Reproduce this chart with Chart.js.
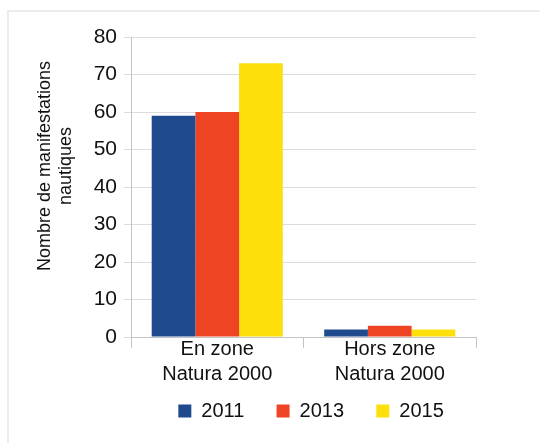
<!DOCTYPE html>
<html lang="fr">
<head>
<meta charset="utf-8">
<title>Manifestations nautiques</title>
<script src="https://cdn.jsdelivr.net/npm/chart.js@4"></script>
<style>
    html, body {
        margin: 0;
        padding: 0;
        background: #ffffff;
    }
    #wrap {
        width: 540px;
        height: 443px;
        position: relative;
    }
</style>
</head>
<body>
<div id="wrap"><canvas id="chart" width="540" height="443"></canvas></div>
<script>
// Catégories et séries
const zones = [['En zone', 'Natura 2000'], ['Hors zone', 'Natura 2000']];
const years = ['2011', '2013', '2015'];
const values2011 = [59, 2];
const values2013 = [60, 3];
const values2015 = [73, 2];
const yTicks = [0, 10, 20, 30, 40, 50, 60, 70, 80];
const yTitle = ['Nombre de manifestations', 'nautiques'];

const colors = {
    blue: '#1f4a8e',
    red: '#ee4423',
    yellow: '#fddf0b',
    grid: '#dcdcdc',
    axis: '#c4c4c4',
    frame: '#ececec',
    text: '#111111'
};

const fontFamily = "'Liberation Sans', Arial, sans-serif";

/**
 * Light frame around the whole figure
 */
const framePlugin = {
    id: 'frame',
    beforeDraw(chart) {
        const ctx = chart.ctx;
        ctx.save();
        ctx.strokeStyle = colors.frame;
        ctx.lineWidth = 2;
        ctx.strokeRect(8, 11, 700, 600);
        ctx.restore();
    }
};

/**
 * Rotated two-line y axis title
 */
const yTitlePlugin = {
    id: 'yTitle',
    afterDraw(chart) {
        const ctx = chart.ctx;
        ctx.save();
        ctx.translate(45, 166);
        ctx.rotate(-Math.PI / 2);
        ctx.fillStyle = colors.text;
        ctx.font = '18px ' + fontFamily;
        ctx.textAlign = 'center';
        ctx.textBaseline = 'middle';
        yTitle.forEach((line, i) => ctx.fillText(line, 0, i * 21));
        ctx.restore();
    }
};

const datasets = [values2011, values2013, values2015].map((data, i) => ({
    label: years[i],
    data: data,
    backgroundColor: [colors.blue, colors.red, colors.yellow][i],
    borderWidth: 0,
    barPercentage: 1.0,
    categoryPercentage: 0.76
}));

new Chart(document.getElementById('chart'), {
    type: 'bar',
    data: {
        labels: zones,
        datasets: datasets
    },
    options: {
        responsive: false,
        animation: false,
        devicePixelRatio: 1,
        layout: {
            padding: { top: 37, right: 64, bottom: 12, left: 0 }
        },
        plugins: {
            legend: {
                position: 'bottom',
                align: 'end',
                fullSize: false,
                labels: {
                    color: colors.text,
                    font: { family: fontFamily, size: 20 },
                    boxWidth: 13,
                    boxHeight: 13,
                    padding: 10,
                    // trailing spaces widen each entry without a tall legend box
                    generateLabels(chart) {
                        return Chart.defaults.plugins.legend.labels.generateLabels(chart)
                            .map(item => ({ ...item, text: item.text + '    ' }));
                    }
                }
            },
            tooltip: { enabled: false }
        },
        scales: {
            x: {
                afterFit(scale) {
                    scale.height = 54;
                },
                grid: {
                    offset: true,
                    drawOnChartArea: false,
                    color: colors.axis,
                    tickLength: 11
                },
                border: { color: colors.axis },
                ticks: {
                    color: colors.text,
                    font: { family: fontFamily, size: 20, lineHeight: 1.25 },
                    padding: -11,
                    maxRotation: 0
                }
            },
            y: {
                min: 0,
                max: 80,
                afterBuildTicks(scale) {
                    scale.ticks = yTicks.map(v => ({ value: v }));
                },
                afterFit(scale) {
                    scale.width = 131;
                },
                grid: {
                    color: colors.grid,
                    tickLength: 7
                },
                border: { color: colors.axis },
                ticks: {
                    color: colors.text,
                    font: { family: fontFamily, size: 21 },
                    padding: 7
                }
            }
        }
    },
    plugins: [framePlugin, yTitlePlugin]
});
</script>
</body>
</html>
